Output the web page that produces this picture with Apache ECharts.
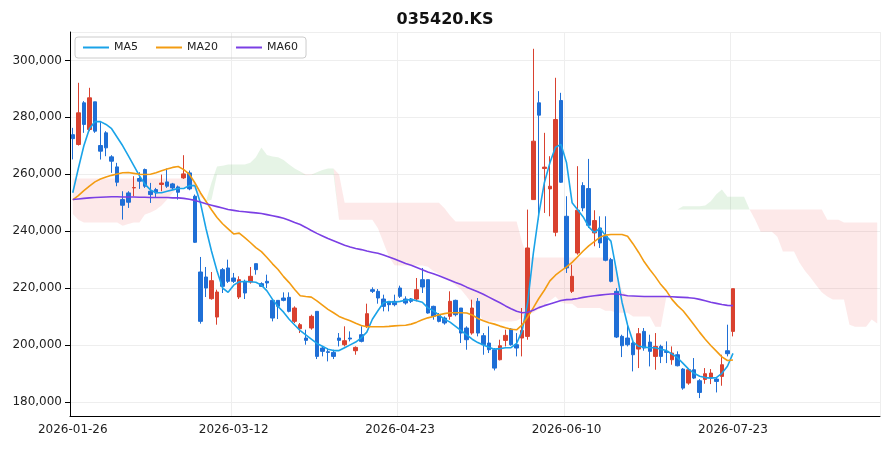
<!DOCTYPE html>
<html><head><meta charset="utf-8">
<script src="https://cdn.jsdelivr.net/npm/echarts@6/dist/echarts.min.js"></script>
<style>html,body{margin:0;padding:0;background:#fff}#c{width:890px;height:450px}</style>
</head><body><div id="c"></div>
<script>
const startDate = '2026-01-26';
const holidays = ['2026-02-16','2026-02-17','2026-02-18','2026-03-02','2026-05-01','2026-05-05','2026-05-25','2026-06-03','2026-07-17'];
const tickLabels = ['2026-01-26','2026-03-12','2026-04-23','2026-06-10','2026-07-23'];
const nData = 120, nForward = 26;

const opens = [273900,270440,285100,275720,285450,270090,274550,266100,262580,251080,
253430,255200,258500,261640,254020,254600,256400,257300,256600,255540,
258700,260470,252260,225630,223870,216240,209790,226450,227040,223520,
216830,222350,222110,228560,221530,222350,215660,215660,216480,216710,
208270,205700,202410,205930,211790,198890,197600,197360,202410,200060,
202410,197950,203580,206520,219410,218820,216130,215080,215310,220000,
216130,216130,216130,222930,222930,213550,210620,209440,210030,215660,
212960,205930,204160,215310,203230,200650,198300,194780,201580,205570,
200060,202410,202990,251080,285100,262000,254840,239590,285920,245210,
218830,232320,256010,254950,239360,241110,238180,229970,218830,203000,
202410,200650,198530,204750,200990,195960,199470,197720,194780,196540,
191500,186570,191260,187400,187860,188570,187980,188920,197950,204750];
const closes = [272500,281580,277500,286860,275130,268100,269270,264580,257180,249090,
250150,255300,257540,255780,252850,253430,256900,255780,255190,253660,
260120,254840,236070,208270,219990,222580,218590,220580,222350,222350,
222930,218240,224110,226450,220580,221760,209440,213550,215660,211790,
212960,207100,201590,210030,195960,197720,197360,195960,201590,201470,
202060,199120,201240,210970,218820,216480,213550,214140,214140,217070,
214720,215310,219410,220350,211200,210030,208270,207690,215310,210620,
204160,201820,212960,204160,200060,198300,191840,199710,203340,200060,
198890,205100,234070,271610,280760,262500,255780,279240,257180,227040,
224110,247330,248150,242050,243700,235840,229740,222350,202760,199710,
200060,196540,203930,198890,197720,199470,195960,197360,197130,192670,
184810,191260,188330,183280,189860,190090,187160,193020,196900,219760];
const lows = [265200,270080,274550,275130,274550,265160,266330,260470,255780,244050,
248150,252260,254840,255190,249910,251670,254020,255190,254600,251080,
258350,254370,235840,207450,216830,215890,207100,218240,221760,221760,
216130,216130,221530,224690,220350,219990,208270,209090,215310,211430,
207690,204160,200060,205340,195020,195960,194200,195020,199470,199470,
201240,196540,200880,205930,218240,214490,211790,211790,213550,216480,
214140,214720,215310,218240,210970,208860,207920,207100,208860,210030,
200650,198300,203580,202990,196540,197130,191020,194550,199470,199710,
195960,195960,201820,251080,244050,246390,245210,238180,256950,225280,
218240,231730,246980,241110,234670,234070,229380,221990,202410,195720,
199470,190680,191850,197950,192430,191260,193600,193600,193020,192430,
184230,185980,187980,181290,186340,186220,183280,185640,195960,202990];
const highs = [276300,292140,285700,290380,285450,278300,275130,266690,263990,254020,
254020,259300,260700,262000,256950,255190,259880,262000,256950,256010,
266690,261290,252850,230910,227390,225630,219410,227040,229970,225280,
224110,222930,227390,228560,222000,224690,215660,215660,218470,218470,
213550,207690,205340,210620,211790,199470,198890,198300,204160,206520,
204750,199470,206520,214490,220230,219640,217650,215310,217650,220820,
217070,216480,223520,227040,222930,213780,211200,210030,218830,215900,
212960,206520,215900,216480,204160,206520,198890,201820,205340,205930,
204160,212960,247560,304100,289210,274550,266330,293900,288620,252260,
228210,262820,257180,265390,247330,245210,245210,230560,219990,203580,
207690,201240,205930,205930,203580,204160,200060,201240,199470,197720,
191850,191260,195370,187980,191850,191500,188330,196540,207100,219760];

const ma5 = [253500,262000,270000,276000,278500,278500,277500,276000,273000,270000,
266500,263000,259500,256500,254500,253500,253500,254000,254500,255000,
255000,256000,256000,250000,241000,233000,226000,220000,218500,221000,
222200,222300,222200,222000,221000,219000,216000,213500,211500,209000,
207000,205000,203500,202000,200500,199500,198500,198000,198000,199000,
200000,201000,202500,204500,209000,212000,214800,215200,215000,215300,
215700,216000,215500,215000,213000,212000,210500,209000,208000,206500,
205000,203500,202000,200800,200000,199200,198500,198700,199000,199000,
200500,205000,215000,232000,246000,257000,264000,269500,270500,264000,
250000,247500,245000,241500,239500,241000,238500,236500,226000,215000,
207000,201000,199500,199200,199000,199000,198500,198000,196800,195500,
193500,191500,190000,189000,188500,188300,188500,190000,192500,197000];
const ma20 = [251000,252500,254200,255800,257300,258300,259000,259600,260100,260500,
260600,260300,260000,259900,260000,260500,261200,261800,262400,262700,
261600,260000,257000,253500,250500,247500,244800,242600,240800,239000,
239300,237700,236000,234200,232800,230700,228500,226500,224000,221900,
219500,217300,217000,216800,215500,214000,212500,211300,210000,209200,
208500,207600,206800,206400,206400,206400,206400,206500,206700,206800,
206900,207300,208000,208800,209500,210000,210600,211000,211300,211300,
211300,211200,210500,209300,208500,207800,207300,206600,206000,205500,
205300,207000,209800,213000,216300,219200,222500,224500,226000,227400,
229000,231000,233000,234800,236300,237800,238600,238800,238800,238800,
238200,235500,232500,229200,226500,224000,221200,219000,216000,213800,
212000,209500,207000,204400,202000,199800,197800,195800,194500,194700];
const ma60 = [251100,251300,251500,251700,251800,251900,252000,252100,252100,252000,
252000,252000,251900,251900,251800,251800,251800,251800,251700,251700,
251500,251200,250800,250200,249600,249100,248600,248100,247600,247300,
247000,246800,246600,246400,246200,245800,245400,245000,244500,243800,
243000,242300,241300,240200,239200,238300,237400,236600,235800,235000,
234400,233900,233500,233000,232600,232200,231600,230900,230200,229400,
228600,228000,227200,226400,225600,225000,224300,223500,222700,221900,
221200,220300,219500,218700,217800,216800,215800,214800,213700,212700,
211800,211300,211500,212200,213100,213800,214400,215000,215600,215900,
216000,216300,216700,217000,217300,217500,217700,217900,218000,217600,
217300,217200,217100,217000,217000,217000,217000,217000,216900,216800,
216700,216600,216400,216000,215500,215000,214600,214200,213900,213800];

const spanA = [246000,244000,243000,243000,243000,243000,243000,243000,243000,241900,
242500,243000,243000,245800,246500,247500,249000,251100,253500,255300,
255300,255300,254500,252100,250500,257000,262700,263000,263400,263400,
263400,263400,264000,266000,269400,266800,266200,266000,265000,263400,
262000,261000,259600,259700,260700,261500,262000,262000,244000,244000,
244000,244000,244000,244000,244000,241000,236000,231000,228000,227900,
227900,227900,227900,227900,227500,226000,225000,223500,222500,221000,
219400,217000,214500,212000,208200,208200,208200,208200,208200,208200,
208500,209500,211000,211300,212500,214000,215500,217000,215000,214500,
214500,213000,213000,213000,213000,213000,212000,212000,211300,211300,
211300,210000,210000,210000,210000,206400,206400,217000,217000,247600,
248700,248700,248700,248700,249000,250500,253000,254600,252100,252100,
252100,252100,247600,244000,239800,239800,239800,238000,232800,232800,
232800,228900,226000,223600,221000,218500,217000,216000,216000,216000,
207100,206400,206400,206400,208900,207500];
const spanB = [258500,258500,258500,258500,258500,258500,258500,258500,258500,258500,
258500,258500,258500,258500,258500,258500,258500,258500,258500,258500,
258500,258000,257000,254000,250500,251000,259900,259900,259900,259900,
259900,259900,259900,259900,259900,259900,259900,259900,259900,259900,
259900,259900,259900,259900,259900,259900,259900,259900,259900,250000,
250000,250000,250000,250000,250000,250000,250000,250000,250000,250000,
250000,250000,250000,250000,250000,250000,250000,248000,245500,243400,
243400,243400,243400,243400,243400,243400,243400,243400,243400,243400,
243400,236000,230700,230700,230700,230700,230700,230700,230700,230700,
230700,230700,230700,230700,230700,230700,230700,230700,226000,219000,
217000,217000,217000,217000,217000,217000,217000,217000,217000,247600,
247600,247600,247600,247600,247600,247600,247600,247600,247600,247600,
247600,247600,247600,247600,247600,247600,247600,247600,247600,247600,
247600,247600,247600,247600,247600,247600,244000,244000,244000,243000,
243000,243000,243000,243000,243000,243000];

const dates = [];
{
  const d = new Date(startDate + 'T00:00:00Z');
  while (dates.length < nData + nForward) {
    const s = d.toISOString().slice(0,10);
    const wd = d.getUTCDay();
    if (wd !== 0 && wd !== 6 && !holidays.includes(s)) dates.push(s);
    d.setUTCDate(d.getUTCDate() + 1);
  }
}
const kdata = opens.map((o,i)=>[o, closes[i], lows[i], highs[i]]);
const cloudBase = spanA.map((a,i)=>Math.min(a, spanB[i]));
const greenBand = spanA.map((a,i)=>Math.max(a - spanB[i], 0));
const redBand = spanA.map((a,i)=>Math.max(spanB[i] - a, 0));
const showTick = (idx, val) => tickLabels.includes(val);

const chart = echarts.init(document.getElementById('c'), null, {renderer:'canvas'});
chart.setOption({
  animation:false,
  backgroundColor:'#fff',
  title:{text:'035420.KS', left:'center', top:7, textStyle:{fontFamily:'DejaVu Sans', fontSize:16, fontWeight:'bold', color:'#111'}},
  legend:{
    left:75, top:37, orient:'horizontal', itemWidth:26, itemHeight:2, itemGap:18,
    borderColor:'#ccc', borderWidth:1, borderRadius:3, padding:[5,8],
    textStyle:{fontFamily:'DejaVu Sans', fontSize:11, color:'#222'},
    data:[{name:'MA5', icon:'rect'},{name:'MA20', icon:'rect'},{name:'MA60', icon:'rect'}]
  },
  grid:{left:70, right:10, top:32, bottom:34},
  xAxis:{
    type:'category', data:dates, boundaryGap:true,
    axisLine:{lineStyle:{color:'#000', width:1}},
    axisTick:{interval:showTick, alignWithLabel:true, lineStyle:{color:'#000'}},
    axisLabel:{interval:showTick, color:'#222', fontFamily:'DejaVu Sans', fontSize:12, margin:8},
    splitLine:{show:true, interval:showTick, lineStyle:{color:'#eee'}}
  },
  yAxis:{
    type:'value', min:175000, max:310000, splitNumber:7,
    axisLine:{show:true, lineStyle:{color:'#000'}},
    axisTick:{show:true, lineStyle:{color:'#000'}},
    axisLabel:{color:'#222', fontFamily:'DejaVu Sans', fontSize:12, showMinLabel:false, showMaxLabel:false},
    splitLine:{lineStyle:{color:'#eee'}}
  },
  series:[
    {name:'base', type:'line', stack:'cloud', data:cloudBase, symbol:'none', lineStyle:{opacity:0}, silent:true, z:1},
    {name:'bull', type:'line', stack:'cloud', data:greenBand, symbol:'none', lineStyle:{opacity:0}, areaStyle:{color:'rgba(76,175,80,0.2)'}, silent:true, z:1},
    {name:'bear', type:'line', stack:'cloud', data:redBand, symbol:'none', lineStyle:{opacity:0}, areaStyle:{color:'rgba(239,83,80,0.18)'}, silent:true, z:1},
    {name:'K', type:'candlestick', data:kdata, barWidth:4, z:3,
      itemStyle:{color:'#d9412f', color0:'#1f6fd6', borderColor:'#d9412f', borderColor0:'#1f6fd6', borderWidth:1}},
    {name:'MA5', type:'line', data:ma5, symbol:'none', lineStyle:{color:'#1aa3e8', width:1.6}, itemStyle:{color:'#1aa3e8'}, z:4},
    {name:'MA20', type:'line', data:ma20, symbol:'none', lineStyle:{color:'#f39c12', width:1.6}, itemStyle:{color:'#f39c12'}, z:4},
    {name:'MA60', type:'line', data:ma60, symbol:'none', lineStyle:{color:'#7b3fe4', width:1.6}, itemStyle:{color:'#7b3fe4'}, z:4}
  ]
});
</script></body></html>
